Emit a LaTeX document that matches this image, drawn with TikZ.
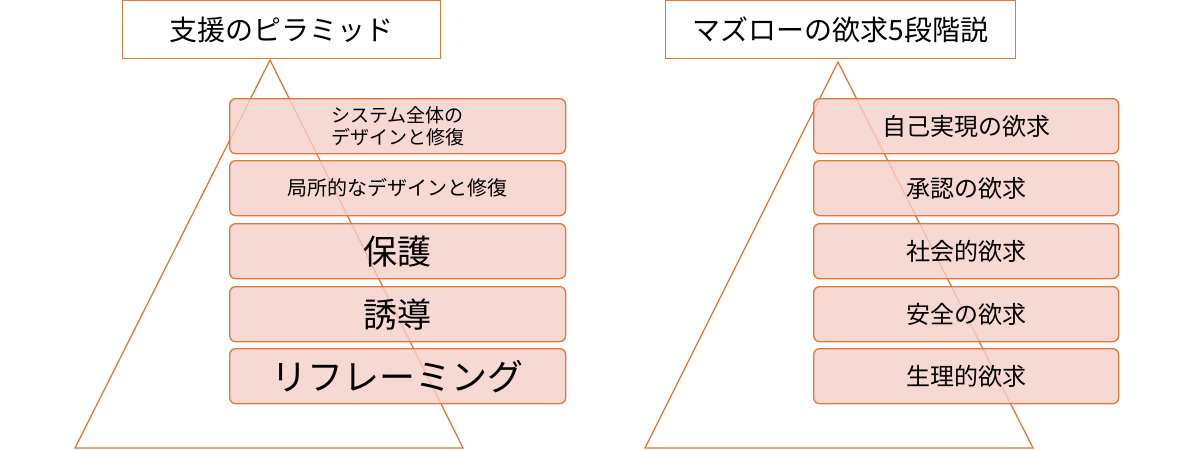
\documentclass[tikz,border=0pt]{standalone}
\usepackage{fontspec}
\setmainfont{Noto Sans CJK JP}
\begin{document}
\begin{tikzpicture}[x=1pt,y=-1pt,
  oc/.style={line width=1.3pt},
  title/.style={oc,fill=white,anchor=north west,inner sep=0pt},
  lvl/.style={oc,rounded corners=6pt,fill=pk,fill opacity=0.8,text opacity=1,anchor=north west,inner sep=0pt,align=center}]
\useasboundingbox (0,0) rectangle (1200,450);
\definecolor{oc}{HTML}{E2773A}
\definecolor{pk}{HTML}{F4CFC8}
\draw[oc,draw=oc] (270,60) -- (75,448) -- (463,448) -- cycle;
\draw[oc,draw=oc] (838,62) -- (645,448) -- (1033,448) -- cycle;
\node[title,draw=oc,minimum width=318pt,minimum height=58pt,font=\fontsize{28}{30}\selectfont] (t1) at (122,0) {支援のピラミッド};
\node[title,draw=oc,minimum width=350pt,minimum height=58pt,font=\fontsize{28}{30}\selectfont] (t2) at (665,0) {マズローの欲求5段階説};
\foreach \n/\y/\s/\b/\t in {a/98/19/22/{システム全体の\\デザインと修復},b/160/20/22/{局所的なデザインと修復},c/223/34/36/{保護},d/286/34/36/{誘導},e/348/36/38/{リフレーミング}}{
  \node[lvl,draw=oc,minimum width=336pt,minimum height=55pt,font=\fontsize{\s}{\b}\selectfont] (L\n) at (229,\y) {\t};
}
\foreach \n/\y/\t in {a/98/自己実現の欲求,b/160/承認の欲求,c/223/社会的欲求,d/286/安全の欲求,e/348/生理的欲求}{
  \node[lvl,draw=oc,minimum width=305pt,minimum height=55pt,font=\fontsize{24}{28}\selectfont] (R\n) at (813,\y) {\t};
}
\end{tikzpicture}
\end{document}
